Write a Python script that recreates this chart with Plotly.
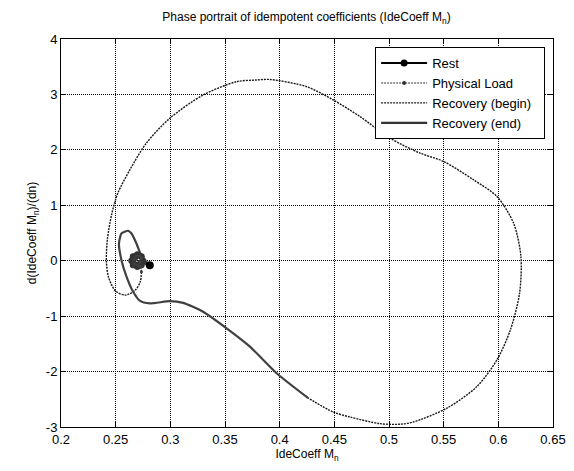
import plotly.graph_objects as go

# ---- data ----
rest_x = [0.2812, 0.2755, 0.2738, 0.2698, 0.2657, 0.2642, 0.2657, 0.2698, 0.2738, 0.2752, 0.2735, 0.2700, 0.2668, 0.2672, 0.2705, 0.2725]
rest_y = [-0.08, -0.01, 0.08, 0.115, 0.08, 0.00, -0.08, -0.115, -0.08, 0.00, 0.07, 0.09, 0.03, -0.06, -0.08, -0.03]

load_x = [0.2725, 0.2735, 0.2718, 0.2690, 0.2668, 0.2672, 0.2705, 0.2730, 0.2736]
load_y = [-0.03, 0.05, 0.09, 0.09, 0.03, -0.06, -0.09, -0.10, -0.20]

rec_begin_x = [0.2736, 0.2725, 0.2680, 0.2590, 0.2500, 0.2435, 0.2415, 0.2425, 0.2465, 0.2520,
               0.2630, 0.2780, 0.2995, 0.3300, 0.3606, 0.3780, 0.3910, 0.4247, 0.4490, 0.4735,
               0.5010, 0.5285, 0.5500, 0.5773, 0.5987, 0.6140, 0.6207, 0.6194, 0.6110, 0.5987,
               0.5804, 0.5530, 0.5223, 0.5100, 0.4918, 0.4644, 0.4490, 0.4262]
rec_begin_y = [-0.20, -0.38, -0.53, -0.62, -0.55, -0.30, 0.00, 0.40, 0.85, 1.22,
               1.64, 2.12, 2.57, 2.99, 3.23, 3.26, 3.27, 3.14, 2.90, 2.60,
               2.21, 1.94, 1.79, 1.46, 1.16, 0.675, 0.07, -0.59, -1.25, -1.79,
               -2.27, -2.66, -2.91, -2.95, -2.94, -2.82, -2.73, -2.48]

rec_end_x = [0.4262, 0.3972, 0.3728, 0.3515, 0.3300, 0.3117, 0.2995, 0.2812, 0.2720, 0.2660,
             0.2600, 0.2553, 0.2530, 0.2553, 0.2614, 0.2645, 0.2690, 0.2720, 0.2748, 0.2742,
             0.2700, 0.2660, 0.2652, 0.2690, 0.2728, 0.2728, 0.2697, 0.2677, 0.2687, 0.2705]
rec_end_y = [-2.48, -2.03, -1.55, -1.22, -0.92, -0.76, -0.73, -0.77, -0.72, -0.56,
             -0.29, 0.01, 0.31, 0.49, 0.54, 0.49, 0.31, 0.16, 0.05, -0.08,
             -0.13, -0.06, 0.06, 0.12, 0.07, -0.04, -0.08, -0.02, 0.05, 0.03]

series_names = ["Rest", "Physical Load", "Recovery (begin)", "Recovery (end)"]

x_ticks = [0.2, 0.25, 0.3, 0.35, 0.4, 0.45, 0.5, 0.55, 0.6, 0.65]
x_tick_labels = ["0.2", "0.25", "0.3", "0.35", "0.4", "0.45", "0.5", "0.55", "0.6", "0.65"]
y_ticks = [-3, -2, -1, 0, 1, 2, 3, 4]
y_tick_labels = ["-3", "-2", "-1", "0", "1", "2", "3", "4"]

FONT = "Liberation Sans, Arial, sans-serif"
DOT = "2px,1px"
PAD = "\u00a0\u00a0"  # right padding inside the legend box

fig = go.Figure()
fig.add_trace(go.Scatter(
    x=rec_begin_x, y=rec_begin_y, mode="lines", name=series_names[2],
    line=dict(color="#1a1a1a", width=1.4, dash=DOT, shape="spline", smoothing=0.8),
    showlegend=False))
fig.add_trace(go.Scatter(
    x=rec_end_x, y=rec_end_y, mode="lines", name=series_names[3],
    line=dict(color="#404040", width=2.2, shape="spline", smoothing=0.6), showlegend=False))
fig.add_trace(go.Scatter(
    x=rest_x, y=rest_y, mode="lines+markers", name=series_names[0],
    line=dict(color="#333333", width=4, shape="spline"), marker=dict(color="#333333", size=6),
    showlegend=False))
fig.add_trace(go.Scatter(
    x=load_x, y=load_y, mode="lines+markers", name=series_names[1],
    line=dict(color="#404040", width=1.5, dash=DOT), marker=dict(color="#404040", size=3),
    showlegend=False))
fig.add_trace(go.Scatter(
    x=[rest_x[0]], y=[rest_y[0]], mode="markers", marker=dict(color="black", size=8),
    showlegend=False, hoverinfo="skip"))

# legend entries (same styles, in legend order)
fig.add_trace(go.Scatter(x=[None], y=[None], mode="lines+markers", name=series_names[0] + PAD,
                         line=dict(color="black", width=2), marker=dict(color="black", size=7)))
fig.add_trace(go.Scatter(x=[None], y=[None], mode="lines+markers", name=series_names[1] + PAD,
                         line=dict(color="#333333", width=1.2, dash=DOT),
                         marker=dict(color="#333333", size=4)))
fig.add_trace(go.Scatter(x=[None], y=[None], mode="lines", name=series_names[2] + PAD,
                         line=dict(color="#222222", width=1.2, dash=DOT)))
fig.add_trace(go.Scatter(x=[None], y=[None], mode="lines", name=series_names[3] + PAD,
                         line=dict(color="#333333", width=2.2)))

axis_common = dict(
    showline=True, linecolor="black", linewidth=1, mirror="ticks",
    ticks="inside", ticklen=5, tickcolor="black",
    showgrid=True, gridcolor="black", gridwidth=1, griddash="1px,1px",
    zeroline=False, tickfont=dict(family=FONT, size=13, color="black"),
)

# page body adds an 8px offset; figure is sized so page == window and the plot box
# lands where the reference has it (x 61..553, y 39..427)
fig.update_layout(
    width=558, height=455,
    margin=dict(l=53, r=13, t=31, b=36),
    paper_bgcolor="white", plot_bgcolor="white",
    font=dict(family=FONT, size=12, color="black"),
    title=dict(text="Phase portrait of idempotent coefficients (IdeCoeff M<sub>n</sub>)",
               x=0.535, xanchor="center", y=0.98, yanchor="middle",
               font=dict(family=FONT, size=12, color="black")),
    xaxis=dict(range=[0.2, 0.65], tickvals=x_ticks, ticktext=x_tick_labels,
               title=dict(text="IdeCoeff M<sub>n</sub>", standoff=10,
                          font=dict(family=FONT, size=12, color="black")),
               automargin=False, **axis_common),
    yaxis=dict(range=[-3, 4], tickvals=y_ticks, ticktext=y_tick_labels,
               title=dict(text="d(IdeCoeff M<sub>n</sub>)/(dn)", standoff=6,
                          font=dict(family=FONT, size=12, color="black")),
               automargin=False, **axis_common),
    legend=dict(x=0.984, y=0.979, xanchor="right", yanchor="top",
                bgcolor="white", bordercolor="black", borderwidth=1,
                font=dict(family=FONT, size=13, color="black"),
                tracegroupgap=0, itemwidth=46),
    showlegend=True,
)

fig.write_html("out.html")
